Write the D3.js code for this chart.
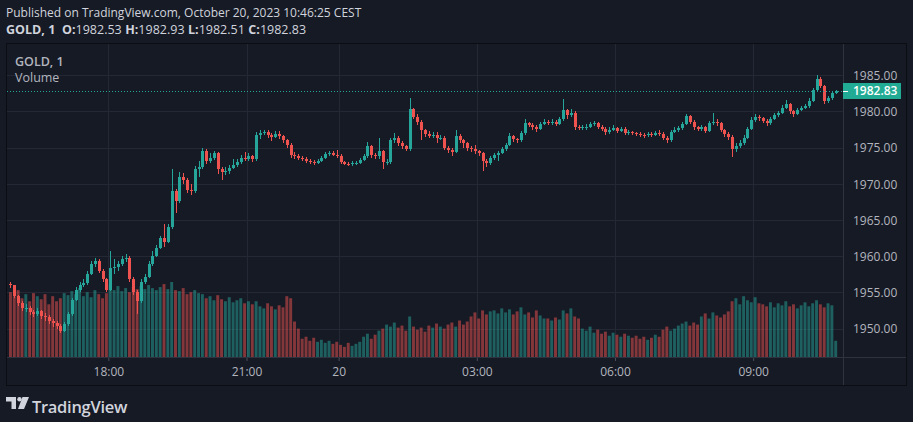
<!DOCTYPE html>
<html><head><meta charset="utf-8">
<script src="https://cdn.jsdelivr.net/npm/d3@7"></script>
<style>html,body{margin:0;padding:0;background:#161a25;overflow:hidden}</style>
</head><body>
<svg id="c" width="913" height="422"></svg>
<script>
// ---------- data ----------
const publishedText = "Published on TradingView.com, October 20, 2023 10:46:25 CEST";
const symbolLabel = "GOLD, 1";
const volumeLabel = "Volume";
const lastBar = {O: "1982.53", H: "1982.93", L: "1982.51", C: "1982.83"};
const lastPrice = 1982.83;
const priceTicks = [1950, 1955, 1960, 1965, 1970, 1975, 1980, 1985];
const timeTickLabels = ["18:00", "21:00", "20", "03:00", "06:00", "09:00"];
const timeTickTimes = ["2023-10-19 18:00", "2023-10-19 21:00", "2023-10-20 00:00", "2023-10-20 03:00", "2023-10-20 06:00", "2023-10-20 09:00"];
const barMinutes = 5;
const session1Start = "2023-10-19 15:50";   // until 23:00 (market break)
const session2Start = "2023-10-20 00:00";
const firstOpen = 1956.2;

const closes1 = [1956.0,1954.5,1953.6,1952.8,1952.9,1952.3,1952.0,1952.4,1951.8,1951.6,
1951.0,1950.8,1950.4,1949.7,1950.6,1952.0,1954.0,1955.3,1956.0,1956.3,
1957.6,1958.9,1959.4,1958.0,1956.8,1955.4,1958.4,1958.5,1958.9,1959.6,
1959.8,1956.8,1955.0,1953.8,1956.5,1957.2,1958.9,1960.0,1961.2,1962.5,
1962.0,1964.0,1969.0,1967.6,1971.0,1970.6,1969.2,1969.0,1972.0,1972.3,
1974.6,1973.2,1973.6,1974.2,1972.0,1971.6,1971.8,1972.2,1972.6,1973.0,
1973.6,1973.5,1973.8,1973.4,1976.7,1977.0,1977.2,1976.8,1976.5,1976.9,
1976.6,1976.0,1975.4,1974.0,1973.8,1973.6,1973.5,1973.2,1973.0,1972.9,
1973.2,1973.6,1974.1,1974.3,1974.0,1973.9];
const highs1 = [1956.4,1956.1,1954.7,1953.8,1953.4,1953.1,1952.6,1952.8,1952.6,1952.1,
1951.9,1951.3,1951.0,1950.6,1950.9,1952.3,1954.3,1955.7,1956.5,1956.8,
1957.9,1959.3,1959.7,1959.6,1958.2,1957.0,1960.7,1959.6,1959.4,1960.0,
1960.3,1960.0,1957.1,1955.3,1956.8,1957.6,1959.4,1960.7,1961.5,1962.8,
1964.5,1964.4,1972.1,1969.3,1971.6,1971.5,1970.8,1970.0,1972.5,1973.1,
1975.0,1974.8,1974.2,1974.6,1974.4,1972.3,1972.3,1972.6,1973.5,1973.4,
1974.0,1974.4,1974.2,1974.0,1977.1,1977.4,1977.5,1977.4,1977.0,1977.3,
1977.3,1976.8,1976.2,1975.6,1974.4,1974.1,1973.9,1973.7,1973.4,1973.3,
1973.5,1973.9,1974.4,1974.6,1974.5,1974.7];
const lows1 = [1955.6,1954.2,1953.2,1952.4,1952.3,1951.9,1951.6,1951.7,1951.3,1951.1,
1950.6,1950.3,1949.9,1949.4,1949.5,1950.4,1951.8,1953.8,1955.0,1955.7,
1956.1,1957.4,1958.5,1957.7,1956.4,1955.0,1955.2,1957.6,1958.0,1958.6,
1959.2,1956.5,1954.7,1952.0,1953.5,1956.2,1957.0,1958.6,1959.9,1961.0,
1961.3,1961.8,1963.8,1966.0,1967.4,1970.0,1968.8,1968.5,1968.8,1971.0,
1972.1,1972.8,1972.9,1973.3,1971.4,1970.5,1971.2,1971.4,1972.0,1972.3,
1972.8,1973.1,1973.2,1973.0,1973.2,1976.2,1976.8,1976.4,1975.9,1976.3,
1976.2,1975.7,1974.9,1973.6,1973.4,1973.3,1973.1,1972.9,1972.7,1972.6,
1972.7,1973.0,1973.4,1973.9,1973.8,1973.6];
const volumes1 = [64,60,66,58,62,55,63,60,57,62,
52,60,55,58,63,61,65,62,68,60,
64,59,66,62,58,63,72,66,70,65,
68,64,69,67,70,67,71,68,66,69,
72,67,74,66,65,68,62,64,66,63,
62,58,60,56,61,57,55,59,54,56,
58,53,55,52,55,50,48,53,50,47,
51,49,60,58,35,28,18,20,16,19,
15,17,14,16,13,15];

const closes2 = [1973.0,1972.8,1972.7,1972.9,1972.9,1973.3,1973.8,1975.2,1974.0,1973.8,
1974.5,1973.0,1973.0,1976.0,1976.4,1975.6,1975.2,1974.8,1980.3,1979.2,
1978.6,1977.4,1976.9,1976.6,1976.8,1976.3,1976.4,1975.0,1974.7,1974.4,
1976.6,1976.0,1975.6,1975.0,1974.8,1974.5,1974.2,1973.2,1972.9,1973.6,
1974.0,1974.3,1974.8,1975.4,1976.6,1976.2,1976.0,1977.0,1978.4,1978.2,
1977.9,1977.6,1978.3,1978.6,1978.4,1978.6,1978.3,1978.9,1980.2,1979.5,
1979.8,1977.9,1977.7,1977.8,1977.9,1978.3,1978.4,1977.9,1977.6,1977.1,
1977.5,1977.7,1977.3,1977.6,1977.0,1977.1,1977.0,1976.9,1976.8,1976.7,
1976.9,1976.8,1977.0,1976.9,1976.4,1976.0,1977.2,1977.5,1977.7,1978.3,
1979.4,1978.6,1977.8,1977.6,1977.8,1977.3,1978.4,1978.6,1978.4,1977.4,
1976.9,1976.5,1974.8,1975.2,1975.6,1976.4,1977.6,1978.8,1979.2,1979.1,
1978.7,1978.4,1979.0,1979.5,1979.8,1980.5,1981.0,1980.0,1979.7,1980.2,
1980.5,1980.7,1981.5,1983.0,1984.5,1983.5,1981.5,1981.8,1982.53,1982.83];
const highs2 = [1974.1,1973.2,1973.0,1973.1,1973.2,1973.6,1974.1,1975.8,1975.4,1974.3,
1976.3,1974.7,1973.5,1976.3,1977.0,1976.6,1975.9,1975.4,1981.8,1980.5,
1979.6,1978.8,1977.6,1977.3,1977.2,1977.1,1976.8,1976.6,1975.3,1975.0,
1977.4,1976.9,1976.2,1975.8,1975.3,1975.4,1974.7,1974.4,1973.5,1973.9,
1974.3,1974.6,1975.1,1975.7,1977.0,1976.8,1976.4,1977.3,1978.9,1978.6,
1978.4,1978.1,1978.6,1978.9,1978.8,1978.9,1978.8,1979.3,1981.7,1980.4,
1980.3,1980.0,1978.2,1978.2,1978.3,1978.6,1978.7,1978.6,1978.1,1977.8,
1977.9,1978.1,1977.9,1977.9,1977.8,1977.5,1977.3,1977.2,1977.1,1977.0,
1977.2,1977.1,1977.3,1977.4,1977.1,1976.6,1977.5,1977.9,1978.0,1978.6,
1979.6,1979.5,1978.8,1978.0,1978.1,1978.0,1978.7,1979.8,1978.9,1978.6,
1977.6,1977.1,1976.7,1975.6,1976.0,1976.7,1977.9,1979.3,1979.6,1979.5,
1979.3,1978.9,1979.3,1979.8,1980.1,1980.9,1981.6,1981.2,1980.2,1980.5,
1980.8,1981.1,1981.9,1983.3,1985.0,1984.7,1983.7,1982.1,1982.8,1982.93];
const lows2 = [1972.7,1972.6,1972.5,1972.5,1972.6,1972.7,1973.1,1973.6,1973.6,1973.4,
1973.5,1972.1,1972.6,1972.8,1975.7,1975.2,1974.8,1974.5,1974.6,1978.9,
1978.2,1976.0,1976.5,1976.3,1976.4,1975.6,1976.0,1974.7,1974.3,1973.9,
1974.3,1975.7,1975.0,1974.6,1974.4,1974.1,1973.8,1971.8,1972.4,1972.6,
1973.3,1973.2,1974.1,1974.6,1975.2,1975.8,1975.7,1975.8,1976.8,1977.8,
1977.5,1977.2,1977.4,1978.1,1978.1,1978.2,1978.0,1978.1,1978.7,1979.0,
1979.2,1977.5,1977.4,1977.4,1977.5,1977.7,1978.0,1977.6,1977.3,1976.8,
1976.9,1977.3,1977.0,1977.1,1976.8,1976.8,1976.7,1976.6,1976.5,1976.4,
1976.5,1976.5,1976.6,1976.6,1976.1,1975.6,1975.8,1977.0,1977.2,1977.5,
1978.1,1978.3,1977.5,1977.3,1977.3,1977.0,1977.1,1978.2,1978.0,1977.1,
1976.5,1976.0,1973.7,1974.4,1975.0,1975.4,1976.2,1977.4,1978.5,1978.7,
1978.4,1978.0,1978.2,1978.8,1979.3,1979.6,1980.3,1979.7,1979.3,1979.5,
1980.0,1980.3,1980.5,1981.3,1982.8,1983.2,1981.0,1981.2,1981.6,1982.4];
const volumes2 = [12,10,14,11,13,15,
20,23,18,22,26,
28,32,30,34,29,31,
26,40,30,27,29,25,
31,29,33,30,28,32,
34,30,36,32,35,
40,44,38,46,42,45,
46,43,48,44,47,42,45,49,
42,44,39,46,41,38,
38,36,39,37,
46,43,48,40,38,
28,26,30,24,27,
23,25,21,24,22,20,23,21,
19,21,18,20,17,19,22,20,
27,30,26,28,31,
33,35,31,34,32,
40,43,38,44,41,39,42,45,
55,58,52,60,56,54,59,53,
52,50,54,49,53,51,55,50,52,48,
51,54,50,53,56,52,49,53,51,16];

// ---------- build bars ----------
const parse = d3.timeParse("%Y-%m-%d %H:%M");
const s1 = parse(session1Start), s2 = parse(session2Start);
const s1Len = 430; // trading minutes in session 1
function tradingMinute(t) {
  if (t < s2) return (t - s1) / 60000;
  return s1Len + (t - s2) / 60000;
}
const bars = [];
let prev = firstOpen;
closes1.forEach((c, i) => { bars.push({m: i * barMinutes, o: prev, h: highs1[i], l: lows1[i], c, v: volumes1[i]}); prev = c; });
closes2.forEach((c, i) => { bars.push({m: s1Len + i * barMinutes, o: prev, h: highs2[i], l: lows2[i], c, v: volumes2[i]}); prev = c; });

// ---------- layout ----------
const W = 913, H = 422;
const pane = {l: 7, t: 44, r: 906, b: 385};
const plot = {l: 7, t: 44, r: 843, b: 357};
const up = "#26a69a", down = "#ef5350";
const font = "'Open Sans', sans-serif";

const svg = d3.select("#c");
svg.append("rect").attr("width", W).attr("height", H).attr("fill", "#161a25");

const x = d3.scaleLinear().domain([-2, 1087]).range([plot.l, plot.r]);
const y = d3.scaleLinear().domain([1946.09, 1989.32]).range([plot.b, plot.t]);
const yv = d3.scaleLinear().domain([0, 75]).range([plot.b, plot.b - 76]);

const tickMinutes = timeTickTimes.map(s => tradingMinute(parse(s)));

// grid
const grid = svg.append("g").attr("stroke", "#242835").attr("stroke-width", 1).attr("shape-rendering", "crispEdges");
grid.selectAll(".gy").data(priceTicks).join("line")
  .attr("x1", plot.l).attr("x2", plot.r).attr("y1", d => Math.round(y(d)) + 0.5).attr("y2", d => Math.round(y(d)) + 0.5);
grid.selectAll(".gx").data(tickMinutes).join("line")
  .attr("y1", plot.t).attr("y2", plot.b).attr("x1", d => Math.round(x(d)) + 0.5).attr("x2", d => Math.round(x(d)) + 0.5);

// clip
svg.append("clipPath").attr("id", "clip").append("rect")
  .attr("x", plot.l).attr("y", plot.t).attr("width", plot.r - plot.l).attr("height", plot.b - plot.t);
const g = svg.append("g").attr("clip-path", "url(#clip)");

const step = x(barMinutes) - x(0);
const vw = step - 0.9, bw = step - 1.6;

// volume
g.append("g").selectAll("rect").data(bars).join("rect")
  .attr("x", d => x(d.m + barMinutes / 2) - vw / 2)
  .attr("width", vw)
  .attr("y", d => yv(d.v))
  .attr("height", d => plot.b - yv(d.v))
  .attr("fill", d => d.c >= d.o ? "rgba(38,166,154,0.5)" : "rgba(239,83,80,0.5)");

// candles
const cg = g.append("g").attr("shape-rendering", "crispEdges");
cg.selectAll("line").data(bars).join("line")
  .attr("x1", d => Math.round(x(d.m + barMinutes / 2)) + 0.5)
  .attr("x2", d => Math.round(x(d.m + barMinutes / 2)) + 0.5)
  .attr("y1", d => y(d.h)).attr("y2", d => y(d.l))
  .attr("stroke", d => d.c >= d.o ? up : down).attr("stroke-width", 1);
cg.selectAll("rect").data(bars).join("rect")
  .attr("x", d => Math.round(x(d.m + barMinutes / 2)) + 0.5 - bw / 2)
  .attr("width", bw)
  .attr("y", d => y(Math.max(d.o, d.c)))
  .attr("height", d => Math.max(1, Math.abs(y(d.o) - y(d.c))))
  .attr("fill", d => d.c >= d.o ? up : down);

// last price dotted line
svg.append("line").attr("x1", plot.l).attr("x2", plot.r)
  .attr("y1", Math.round(y(lastPrice)) + 0.5).attr("y2", Math.round(y(lastPrice)) + 0.5)
  .attr("stroke", up).attr("stroke-width", 1).attr("stroke-dasharray", "1,2");

// axis separators & pane border
svg.append("line").attr("x1", pane.l).attr("x2", pane.r).attr("y1", plot.b + 0.5).attr("y2", plot.b + 0.5)
  .attr("stroke", "#2f3340");
svg.append("line").attr("x1", plot.r + 0.5).attr("x2", plot.r + 0.5).attr("y1", pane.t).attr("y2", pane.b)
  .attr("stroke", "#2f3340");
svg.append("rect").attr("x", pane.l - 0.5).attr("y", pane.t - 0.5).attr("width", pane.r - pane.l + 1).attr("height", pane.b - pane.t + 1)
  .attr("fill", "none").attr("stroke", "#0b0d12");

// price axis
const yAxis = d3.axisRight(y).tickValues(priceTicks).tickFormat(d3.format(".2f")).tickSize(0).tickPadding(10);
const ya = svg.append("g").attr("transform", `translate(${plot.r},0)`).call(yAxis);
ya.select(".domain").remove();
ya.selectAll("text").attr("fill", "#b2b5be").attr("font-family", font).attr("font-size", 12).attr("dy", "0.35em");

// time axis
const xAxis = d3.axisBottom(x).tickValues(tickMinutes).tickFormat((d, i) => timeTickLabels[i]).tickSize(3).tickPadding(6);
const xa = svg.append("g").attr("transform", `translate(0,${plot.b + 1})`).call(xAxis);
xa.select(".domain").remove();
xa.selectAll("line").attr("stroke", "#4a4e59");
xa.selectAll("text").attr("fill", "#b2b5be").attr("font-family", font).attr("font-size", 12);

// last price label
const ly = y(lastPrice);
svg.append("rect").attr("x", plot.r).attr("y", Math.round(ly) - 8).attr("width", 58).attr("height", 16).attr("fill", "#22ab94");
svg.append("line").attr("x1", plot.r).attr("x2", plot.r + 5).attr("y1", Math.round(ly) + 0.5).attr("y2", Math.round(ly) + 0.5).attr("stroke", "#fff");
svg.append("text").attr("x", plot.r + 10).attr("y", ly).attr("dy", "0.35em").attr("fill", "#fff")
  .attr("font-family", font).attr("font-size", 12).attr("font-weight", 600).text(d3.format(".2f")(lastPrice));

// header
svg.append("text").attr("x", 6).attr("y", 17).attr("fill", "#d1d4dc").attr("font-family", font).attr("font-size", 12).text(publishedText);
const h2 = svg.append("text").attr("x", 6).attr("y", 34).attr("fill", "#d1d4dc").attr("font-family", font).attr("font-size", 12.5);
h2.append("tspan").attr("font-weight", 700).text(symbolLabel + " ");
Object.entries(lastBar).forEach(([k, v]) => {
  h2.append("tspan").attr("font-weight", 700).attr("dx", 3.5).text(k + ":");
  h2.append("tspan").text(v);
});

// legend
svg.append("text").attr("x", 15).attr("y", 66).attr("fill", "#b2b5be").attr("font-family", font).attr("font-size", 12.5).attr("font-weight", 600).text(symbolLabel);
svg.append("text").attr("x", 15).attr("y", 82).attr("fill", "#b2b5be").attr("font-family", font).attr("font-size", 12.5).text(volumeLabel);

// logo
const logo = svg.append("g").attr("fill", "#d1d4dc");
logo.append("rect").attr("x", 6).attr("y", 397).attr("width", 10).attr("height", 4.5);
logo.append("rect").attr("x", 11.5).attr("y", 397).attr("width", 4.5).attr("height", 12);
logo.append("circle").attr("cx", 19.5).attr("cy", 399.2).attr("r", 2.2);
logo.append("path").attr("d", "M22.5,397 L29,397 L24,409 L18,409 Z");
svg.append("text").attr("x", 32).attr("y", 413).attr("fill", "#d1d4dc").attr("font-family", font).attr("font-size", 16.5).attr("font-weight", 600).attr("letter-spacing", -0.3).text("TradingView");
</script>
</body></html>
